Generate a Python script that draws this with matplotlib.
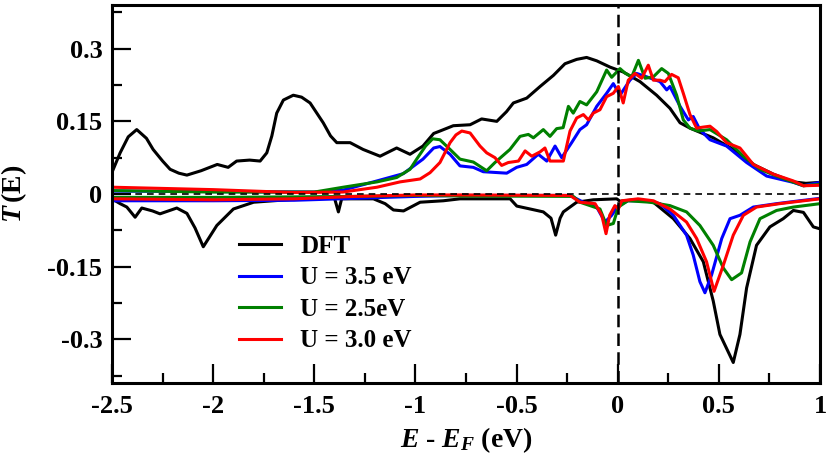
#!/usr/bin/env python3
"""Spin-resolved transmission T(E): DFT vs DFT+U."""

import matplotlib
matplotlib.use("Agg")
import matplotlib.pyplot as plt
import matplotlib.ticker as mticker

BLACK = "#000000"
BLUE = "#0000FF"
GREEN = "#008000"
RED = "#FF0000"

# ── data (spin up > 0, spin down < 0) ─────────────────────────────────

dft_up_x = [-2.5, -2.46, -2.42, -2.378, -2.33, -2.297, -2.25, -2.213, -2.17, -2.13,
            -2.06, -1.98, -1.926, -1.884, -1.82, -1.768, -1.735, -1.71, -1.686, -1.653,
            -1.604, -1.563, -1.521, -1.456, -1.42, -1.389, -1.323, -1.259, -1.175, -1.093,
            -1.027, -0.963, -0.91, -0.879, -0.813, -0.730, -0.673, -0.598, -0.55, -0.516,
            -0.450, -0.384, -0.318, -0.261, -0.203, -0.154, -0.104, -0.038, 0.027, 0.110,
            0.192, 0.258, 0.308, 0.357, 0.420, 0.472, 0.571, 0.670, 0.769, 0.868, 0.93, 1.0]
dft_up_y = [0.045, 0.085, 0.118, 0.133, 0.115, 0.092, 0.068, 0.051, 0.043, 0.039,
            0.048, 0.061, 0.055, 0.068, 0.070, 0.068, 0.085, 0.120, 0.167, 0.194,
            0.204, 0.200, 0.188, 0.147, 0.120, 0.106, 0.106, 0.092, 0.078, 0.095,
            0.082, 0.099, 0.125, 0.130, 0.141, 0.143, 0.155, 0.150, 0.170, 0.188,
            0.198, 0.222, 0.245, 0.269, 0.278, 0.282, 0.275, 0.262, 0.252, 0.232,
            0.204, 0.177, 0.147, 0.136, 0.125, 0.116, 0.092, 0.061, 0.041, 0.025, 0.022, 0.024]

dft_dn_x = [-2.5, -2.46, -2.427, -2.386, -2.353, -2.30, -2.263, -2.18, -2.13, -2.09,
            -2.049, -2.02, -1.982, -1.90, -1.80, -1.636, -1.455, -1.40, -1.381, -1.365,
            -1.30, -1.208, -1.15, -1.109, -1.059, -0.977, -0.862, -0.780, -0.615, -0.532,
            -0.499, -0.433, -0.368, -0.33, -0.307, -0.285, -0.269, -0.203, -0.121, -0.005,
            0.011, 0.08, 0.176, 0.275, 0.357, 0.423, 0.472, 0.505, 0.571, 0.604,
            0.637, 0.686, 0.752, 0.818, 0.868, 0.918, 0.967, 1.0]
dft_dn_y = [-0.010, -0.020, -0.027, -0.048, -0.029, -0.035, -0.041, -0.029, -0.040, -0.070,
            -0.109, -0.090, -0.065, -0.031, -0.017, -0.012, -0.007, -0.009, -0.037, -0.010,
            -0.010, -0.010, -0.020, -0.033, -0.035, -0.017, -0.014, -0.010, -0.010, -0.010,
            -0.025, -0.031, -0.037, -0.050, -0.085, -0.050, -0.037, -0.017, -0.012, -0.010,
            -0.015, -0.012, -0.017, -0.051, -0.092, -0.140, -0.221, -0.290, -0.348, -0.290,
            -0.194, -0.106, -0.068, -0.051, -0.034, -0.038, -0.068, -0.072]

u35_up_x = [-2.5, -2.0, -1.5, -1.358, -1.19, -1.06, -0.963, -0.91, -0.879, -0.829,
            -0.780, -0.714, -0.665, -0.549, -0.500, -0.450, -0.393, -0.351, -0.310, -0.277,
            -0.228, -0.187, -0.154, -0.104, -0.055, -0.022, 0.011, 0.060, 0.093, 0.143,
            0.209, 0.242, 0.258, 0.308, 0.349, 0.373, 0.406, 0.456, 0.538, 0.637,
            0.736, 0.868, 0.918, 1.0]
u35_up_y = [0.006, 0.005, 0.004, 0.008, 0.027, 0.042, 0.072, 0.095, 0.098, 0.082,
            0.058, 0.055, 0.046, 0.043, 0.055, 0.061, 0.082, 0.068, 0.099, 0.075,
            0.106, 0.133, 0.143, 0.181, 0.208, 0.228, 0.204, 0.235, 0.249, 0.242,
            0.232, 0.215, 0.222, 0.181, 0.153, 0.160, 0.133, 0.112, 0.099, 0.065,
            0.037, 0.024, 0.017, 0.024]

u25_up_x = [-2.5, -2.0, -1.5, -1.357, -1.19, -1.093, -1.027, -0.994, -0.950, -0.915,
            -0.879, -0.829, -0.780, -0.714, -0.648, -0.607, -0.533, -0.483, -0.442, -0.417,
            -0.368, -0.335, -0.302, -0.27, -0.244, -0.220, -0.187, -0.154, -0.104, -0.055,
            -0.030, 0.011, 0.035, 0.069, 0.102, 0.135, 0.176, 0.217, 0.250, 0.291,
            0.324, 0.357, 0.398, 0.456, 0.538, 0.621, 0.703, 0.785, 0.918, 1.0]
u25_up_y = [0.007, 0.004, 0.004, 0.014, 0.025, 0.034, 0.051, 0.072, 0.099, 0.114,
            0.112, 0.092, 0.072, 0.066, 0.048, 0.065, 0.092, 0.119, 0.123, 0.116,
            0.133, 0.119, 0.135, 0.137, 0.181, 0.167, 0.191, 0.184, 0.211, 0.256,
            0.241, 0.259, 0.250, 0.242, 0.276, 0.239, 0.242, 0.259, 0.249, 0.204,
            0.153, 0.136, 0.130, 0.133, 0.112, 0.078, 0.051, 0.037, 0.017, 0.020]

u30_up_x = [-2.5, -2.0, -1.6, -1.358, -1.19, -1.076, -0.977, -0.928, -0.879, -0.829,
            -0.800, -0.771, -0.730, -0.681, -0.648, -0.607, -0.574, -0.541, -0.491, -0.458,
            -0.425, -0.384, -0.360, -0.335, -0.269, -0.236, -0.203, -0.170, -0.145, -0.121,
            -0.088, -0.055, -0.022, 0.003, 0.027, 0.052, 0.085, 0.118, 0.151, 0.176,
            0.209, 0.233, 0.266, 0.299, 0.324, 0.357, 0.390, 0.420, 0.456, 0.489,
            0.538, 0.604, 0.670, 0.769, 0.868, 0.918, 1.0]
u30_up_y = [0.014, 0.009, 0.003, 0.004, 0.014, 0.025, 0.031, 0.044, 0.065, 0.106,
            0.122, 0.130, 0.126, 0.099, 0.085, 0.075, 0.059, 0.065, 0.068, 0.089,
            0.078, 0.087, 0.095, 0.068, 0.068, 0.130, 0.157, 0.164, 0.153, 0.167,
            0.174, 0.201, 0.208, 0.222, 0.188, 0.235, 0.249, 0.239, 0.266, 0.235,
            0.235, 0.232, 0.247, 0.240, 0.208, 0.164, 0.136, 0.138, 0.140, 0.129,
            0.106, 0.095, 0.061, 0.041, 0.027, 0.017, 0.018]

u35_dn_x = [-2.5, -2.0, -1.6, -1.3, -1.0, -0.78, -0.236, -0.170, -0.104, -0.063,
            -0.030, 0.003, 0.05, 0.15, 0.209, 0.275, 0.340, 0.373, 0.406, 0.431,
            0.464, 0.514, 0.555, 0.604, 0.670, 0.785, 0.9, 1.0]
u35_dn_y = [-0.014, -0.014, -0.013, -0.009, -0.005, -0.003, -0.003, -0.017, -0.027, -0.058,
            -0.044, -0.024, -0.014, -0.014, -0.020, -0.044, -0.085, -0.126, -0.181, -0.204,
            -0.167, -0.092, -0.051, -0.044, -0.027, -0.020, -0.014, -0.009]

u25_dn_x = [-2.5, -2.0, -1.6, -1.3, -1.0, -0.78, -0.22, -0.187, -0.088, -0.055,
            -0.022, 0.003, 0.05, 0.159, 0.258, 0.340, 0.406, 0.472, 0.522, 0.563,
            0.612, 0.654, 0.703, 0.785, 0.868, 1.0]
u25_dn_y = [-0.007, -0.007, -0.006, -0.005, -0.003, -0.004, -0.005, -0.017, -0.031, -0.065,
            -0.061, -0.027, -0.014, -0.017, -0.024, -0.037, -0.065, -0.106, -0.153, -0.177,
            -0.163, -0.099, -0.051, -0.034, -0.027, -0.020]

u30_dn_x = [-2.5, -2.0, -1.6, -1.3, -1.0, -0.78, -0.236, -0.187, -0.112, -0.079,
            -0.058, -0.040, -0.014, 0.003, 0.02, 0.1, 0.176, 0.258, 0.340, 0.390,
            0.439, 0.476, 0.522, 0.571, 0.621, 0.686, 0.80, 1.0]
u30_dn_y = [-0.010, -0.012, -0.010, -0.005, -0.002, -0.002, -0.003, -0.017, -0.020, -0.044,
            -0.082, -0.044, -0.024, -0.031, -0.014, -0.010, -0.014, -0.031, -0.058, -0.092,
            -0.140, -0.201, -0.147, -0.085, -0.044, -0.027, -0.020, -0.010]

x_ticks = [-2.5, -2.0, -1.5, -1.0, -0.5, 0.0, 0.5, 1.0]
y_ticks = [-0.3, -0.15, 0.0, 0.15, 0.3]

plt.rcParams.update({
    "font.family": "Liberation Serif",
    "font.weight": "bold",
    "axes.unicode_minus": False,
    "mathtext.fontset": "custom",
    "mathtext.rm": "Liberation Serif:bold",
    "mathtext.it": "Liberation Serif:italic:bold",
    "mathtext.bf": "Liberation Serif:bold",
})


def fmt_tick(v, _):
    return f"{v:g}"


fig = plt.figure(figsize=(8.3, 4.68), dpi=100)
ax = fig.add_axes([0.135, 0.182, 0.853, 0.807])

LW = 2.2
ax.plot(dft_up_x, dft_up_y, color=BLACK, lw=LW, label="DFT")
ax.plot(u35_up_x, u35_up_y, color=BLUE, lw=LW, label="U = 3.5 eV")
ax.plot(u25_up_x, u25_up_y, color=GREEN, lw=LW, label="U = 2.5eV")
ax.plot(u30_up_x, u30_up_y, color=RED, lw=LW, label="U = 3.0 eV")
ax.plot(dft_dn_x, dft_dn_y, color=BLACK, lw=LW)
ax.plot(u35_dn_x, u35_dn_y, color=BLUE, lw=LW)
ax.plot(u25_dn_x, u25_dn_y, color=GREEN, lw=LW)
ax.plot(u30_dn_x, u30_dn_y, color=RED, lw=LW)

# Fermi level and zero line
ax.axvline(0, color=BLACK, lw=1.8, ls=(0, (5, 2.5)), zorder=6)
ax.axhline(0, color=BLACK, lw=1.2, ls=(0, (4, 3)), zorder=6)

ax.set_xlim(-2.5, 1.0)
ax.set_ylim(-0.39, 0.39)
ax.set_xticks(x_ticks)
ax.set_yticks(y_ticks)
ax.xaxis.set_minor_locator(mticker.MultipleLocator(0.25))
ax.yaxis.set_minor_locator(mticker.MultipleLocator(0.075))
ax.xaxis.set_major_formatter(mticker.FuncFormatter(fmt_tick))
ax.yaxis.set_major_formatter(mticker.FuncFormatter(fmt_tick))
ax.tick_params(which="major", direction="in", length=14, width=1.6,
               labelsize=19, top=False, right=False)
ax.tick_params(which="minor", direction="in", length=7, width=1.6,
               top=False, right=False)
ax.tick_params(axis="x", which="major", pad=9)
ax.tick_params(axis="y", which="major", pad=7)
for sp in ax.spines.values():
    sp.set_linewidth(2.2)

ax.set_xlabel(r"$E$ - $E_F$ (eV)", fontsize=20, fontweight="bold")
ax.set_ylabel(r"$T\,$(E)", fontsize=20, fontweight="bold")
ax.xaxis.set_label_coords(0.5, -0.112)
ax.yaxis.set_label_coords(-0.118, 0.5)

ax.legend(loc="upper left", bbox_to_anchor=(0.165, 0.418), frameon=False,
          fontsize=18, handlelength=1.7, handletextpad=0.75, labelspacing=0.34,
          borderaxespad=0)

fig.savefig("out.png", dpi=100)
